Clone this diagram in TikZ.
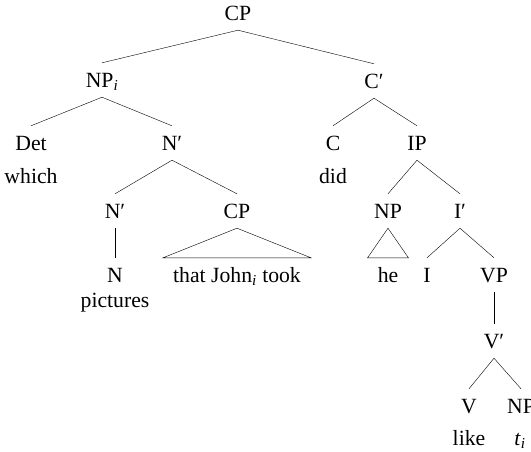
\documentclass[tikz,border=0pt]{standalone}
\usepackage{fontspec}
\setmainfont{Liberation Serif}
\tikzset{
	cat/.style = {anchor=base, font=\fontsize{21.7}{26}\selectfont, inner xsep=2pt,
		inner ysep=6pt, text height=18pt, text depth=4pt},
	word/.style = {cat},
	roof/.style = {cat, inner xsep=10pt}
}
\newcommand{\barcat}[1]{#1′}
\newcommand{\idx}[1]{#1\textsubscript{\itshape i}}

\begin{document}
\begin{tikzpicture}[x=1pt,y=-1pt]
\useasboundingbox (0,0) rectangle (531,451);
% top
\node [cat] (cp) at (238,20) {CP};
\node [cat] (npi) at (102,87) {\idx{NP}};
\node [cat] (cbar) at (374,88) {\barcat{C}};
% wh-phrase
\node [cat] (det) at (31,150) {Det};
\node [word] (which) at (31,183) {which};
\node [cat] (nbar) at (172,150) {\barcat{N}};
\node [cat] (nbar2) at (115,218) {\barcat{N}};
\node [cat] (cp2) at (237,218) {CP};
\node [cat] (n) at (115,282) {N};
\node [word] (pictures) at (115,307) {pictures};
\node [roof] (took) at (237,282) {that \idx{John} took};
% clause
\node [cat] (c) at (333,150) {C};
\node [word] (did) at (333,183) {did};
\node [cat] (ip) at (417,150) {IP};
\node [cat] (np) at (388,218) {NP};
\node [roof] (he) at (388,282) {he};
\node [cat] (ibar) at (460,218) {\barcat{I}};
\node [cat] (i) at (427,282) {I};
\node [cat] (vp) at (494,282) {VP};
\node [cat] (vbar) at (494,348) {\barcat{V}};
\node [cat] (v) at (469,413) {V};
\node [word] (like) at (469,445) {like};
\node [cat] (np2) at (521,413) {NP};
\node [word] (trace) at (520,445) {\idx{\textit{t}}};

\draw (npi.north) -- (cp.south) -- (cbar.north);
\draw (det.north) -- (npi.south) -- (nbar.north);
\draw (nbar2.north) -- (nbar.south) -- (cp2.north);
\draw (nbar2.south) -- (n.north);
\draw (cp2.south) -- (took.north west) -- (took.north east) -- cycle;
\draw (c.north) -- (cbar.south) -- (ip.north);
\draw (np.north) -- (ip.south) -- (ibar.north);
\draw (np.south) -- (he.north west) -- (he.north east) -- cycle;
\draw (i.north) -- (ibar.south) -- (vp.north);
\draw (vp.south) -- (vbar.north);
\draw (v.north) -- (vbar.south) -- (np2.north);
\end{tikzpicture}
\end{document}
